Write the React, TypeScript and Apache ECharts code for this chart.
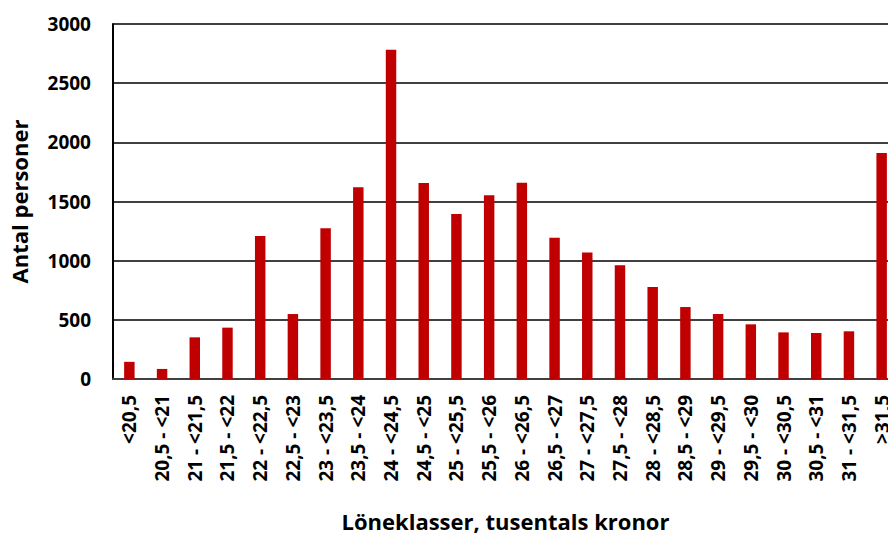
import React, { useEffect, useRef } from "react";
import * as echarts from "echarts";

const categories = [
  "<20,5", "20,5 - <21", "21 - <21,5", "21,5 - <22", "22 - <22,5", "22,5 - <23",
  "23 - <23,5", "23,5 - <24", "24 - <24,5", "24,5 - <25", "25 - <25,5", "25,5 - <26",
  "26 - <26,5", "26,5 - <27", "27 - <27,5", "27,5 - <28", "28 - <28,5", "28,5 - <29",
  "29 - <29,5", "29,5 - <30", "30 - <30,5", "30,5 - <31", "31 - <31,5", ">31,5",
];
const values = [
  145, 85, 352, 434, 1208, 549, 1273, 1620, 2783, 1656, 1394, 1552,
  1659, 1194, 1070, 961, 777, 608, 549, 462, 394, 389, 403, 1910,
];
const yTicks = [0, 500, 1000, 1500, 2000, 2500, 3000];

const FONT = "'Open Sans', sans-serif";

export default function App() {
  const ref = useRef<HTMLDivElement>(null);
  useEffect(() => {
    const chart = echarts.init(ref.current!, null, { renderer: "svg" });
    chart.setOption({
      animation: false,
      backgroundColor: "#ffffff",
      grid: {
        left: 113,
        top: 24,
        width: 785,
        height: 355,
        containLabel: false,
        outerBoundsMode: "none",
      },
      xAxis: {
        type: "category",
        data: categories,
        name: "Löneklasser, tusentals kronor",
        nameLocation: "middle",
        nameGap: 131,
        nameTextStyle: { fontFamily: FONT, fontWeight: "bold", fontSize: 22, color: "#000" },
        axisLine: { lineStyle: { color: "#404040", width: 2 } },
        axisTick: { show: false },
        axisLabel: {
          rotate: 90,
          interval: 0,
          margin: 16,
          fontFamily: FONT,
          fontWeight: "bold",
          fontSize: 19,
          color: "#000",
        },
      },
      yAxis: {
        type: "value",
        min: 0,
        max: 3000,
        interval: 500,
        name: "Antal personer",
        nameLocation: "middle",
        nameGap: 83,
        nameTextStyle: { fontFamily: FONT, fontWeight: "bold", fontSize: 22, color: "#000" },
        axisLine: { show: true, lineStyle: { color: "#000", width: 2 } },
        axisTick: { show: false },
        axisLabel: {
          margin: 22,
          fontFamily: FONT,
          fontWeight: "bold",
          fontSize: 19,
          color: "#000",
          formatter: (v: number) => (yTicks.includes(v) ? String(v) : ""),
        },
        splitLine: { show: true, lineStyle: { color: "#000", width: 1.5 } },
      },
      series: [
        {
          type: "bar",
          data: values,
          barWidth: "32%",
          itemStyle: { color: "#C00000" },
        },
      ],
    });
    return () => chart.dispose();
  }, []);
  return (
    <div
      ref={ref}
      style={{ position: "fixed", left: 0, top: 0, width: 888, height: 535, overflow: "hidden" }}
    />
  );
}
